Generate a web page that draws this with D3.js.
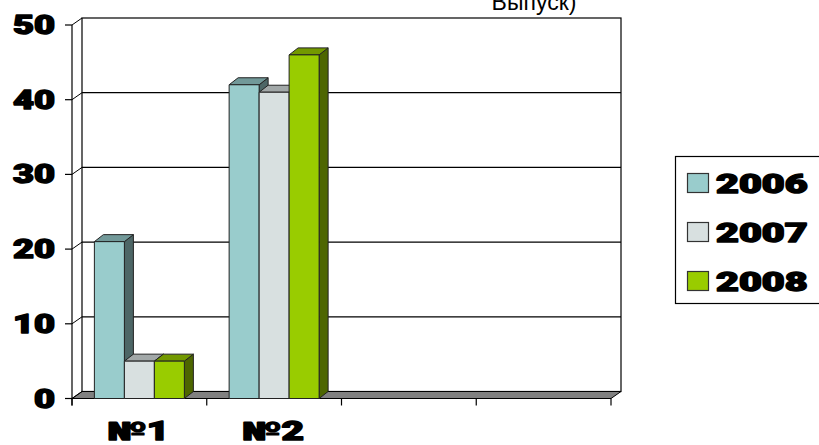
<!DOCTYPE html>
<html>
<head>
<meta charset="utf-8">
<script src="https://cdn.jsdelivr.net/npm/d3@7"></script>
<style>
  body { margin: 0; background: #fff; }
  svg { display: block; }
  .big { font-family: Roboto, 'DejaVu Sans', sans-serif; font-weight: 900; font-size: 25px; fill: #000; stroke: #000; stroke-width: 1.4px; stroke-linejoin: round; }
</style>
</head>
<body>
<div id="chart"></div>
<script>
var categories = ['№1', '№2', '', ''];
var years = ['2006', '2007', '2008'];
var values2006 = [21, 42];
var values2007 = [5, 41];
var values2008 = [5, 46];
var yTicks = [0, 10, 20, 30, 40, 50];

var series = [
  {name: '2006', values: values2006, front: '#99cccc', top: '#729999', side: '#4d6666'},
  {name: '2007', values: values2007, front: '#d8e0e0', top: '#a2a8a8', side: '#6c7070'},
  {name: '2008', values: values2008, front: '#99cc00', top: '#739900', side: '#4d6600'}
];

var W = 819, H = 445;
// 3d offsets: wall depth and bar depth
var dx = 10, dy = -7;
var bdx = 9, bdy = -7;

var x = d3.scaleBand().domain(d3.range(categories.length)).range([72, 611]);
var xs = d3.scaleBand().domain(years).range([0, x.bandwidth()]).paddingOuter(0.746);
var y = d3.scaleLinear().domain([0, 50]).range([398.5, 25]);

var svg = d3.select('#chart').append('svg')
  .attr('width', W)
  .attr('height', H);

// title, mostly cut off at the top
svg.append('text')
  .attr('x', 534).attr('y', 10)
  .attr('text-anchor', 'middle')
  .style('font-family', "'Liberation Sans', Arial, sans-serif")
  .style('font-size', '23px')
  .text('Выпуск)');

// back wall
var x0 = x.range()[0], x1 = x.range()[1];
svg.append('rect')
  .attr('x', x0 + dx).attr('y', y(50) + dy)
  .attr('width', x1 - x0).attr('height', y(0) - y(50))
  .attr('fill', '#fff').attr('stroke', '#000').attr('stroke-width', 1.2);

// gridlines on the wall
svg.selectAll('.grid').data(yTicks.slice(1, -1)).enter()
  .append('line')
  .attr('x1', x0 + dx).attr('x2', x1 + dx)
  .attr('y1', function(d) { return y(d) + dy; })
  .attr('y2', function(d) { return y(d) + dy; })
  .attr('stroke', '#000').attr('stroke-width', 1.2);

// floor
svg.append('path')
  .attr('d', 'M' + x0 + ',' + y(0) + 'L' + x1 + ',' + y(0) +
    'L' + (x1 + dx) + ',' + (y(0) + dy) + 'L' + (x0 + dx) + ',' + (y(0) + dy) + 'Z')
  .attr('fill', '#808080').attr('stroke', '#000').attr('stroke-width', 1);

// y axis on the front plane
svg.append('line')
  .attr('x1', x0).attr('x2', x0)
  .attr('y1', y(0) + 7).attr('y2', y(50))
  .attr('stroke', '#000').attr('stroke-width', 1.2);

var ticks = svg.selectAll('.ytick').data(yTicks).enter().append('g');
ticks.append('line')
  .attr('x1', x0 - 7).attr('x2', x0)
  .attr('y1', function(d) { return y(d); })
  .attr('y2', function(d) { return y(d); })
  .attr('stroke', '#000').attr('stroke-width', 1.2);
ticks.append('line')
  .attr('x1', x0).attr('x2', x0 + dx)
  .attr('y1', function(d) { return y(d); })
  .attr('y2', function(d) { return y(d) + dy; })
  .attr('stroke', '#000').attr('stroke-width', 1);
ticks.append('text')
  .attr('class', 'big')
  .attr('text-anchor', 'end')
  .attr('transform', function(d) { return 'translate(55,' + (y(d) + 9) + ') scale(1.45,1)'; })
  .text(function(d) { return d; });

// bottom axis
svg.append('line')
  .attr('x1', x0).attr('x2', x1)
  .attr('y1', y(0)).attr('y2', y(0))
  .attr('stroke', '#000').attr('stroke-width', 1.2);
svg.selectAll('.xtick').data(d3.range(categories.length + 1)).enter()
  .append('line')
  .attr('x1', function(d) { return x0 + d * x.step(); })
  .attr('x2', function(d) { return x0 + d * x.step(); })
  .attr('y1', y(0)).attr('y2', y(0) + 7)
  .attr('stroke', '#000').attr('stroke-width', 1.2);
svg.selectAll('.xlabel').data(categories).enter()
  .append('text')
  .attr('class', 'big')
  .attr('text-anchor', 'middle')
  .attr('transform', function(d, i) { return 'translate(' + (x(i) + x.bandwidth() / 2 - 1) + ',440) scale(1.55,1)'; })
  .text(function(d) { return d; });

// bars, left to right so each front hides the previous side
categories.forEach(function(c, i) {
  series.forEach(function(s) {
    var v = s.values[i];
    if (v === undefined) return;
    var bx = x(i) + xs(s.name), w = xs.bandwidth();
    var yt = y(v), yb = y(0);
    var g = svg.append('g').attr('stroke', '#222').attr('stroke-width', 1).attr('stroke-linejoin', 'round');
    g.append('path')
      .attr('d', 'M' + (bx + w) + ',' + yt + 'L' + (bx + w + bdx) + ',' + (yt + bdy) +
        'L' + (bx + w + bdx) + ',' + (yb + bdy) + 'L' + (bx + w) + ',' + yb + 'Z')
      .attr('fill', s.side);
    g.append('path')
      .attr('d', 'M' + bx + ',' + yt + 'L' + (bx + bdx) + ',' + (yt + bdy) +
        'L' + (bx + w + bdx) + ',' + (yt + bdy) + 'L' + (bx + w) + ',' + yt + 'Z')
      .attr('fill', s.top);
    g.append('rect')
      .attr('x', bx).attr('y', yt)
      .attr('width', w).attr('height', yb - yt)
      .attr('fill', s.front);
  });
});

// legend
var legend = svg.append('g');
legend.append('rect')
  .attr('x', 675.5).attr('y', 156.5)
  .attr('width', 170).attr('height', 147)
  .attr('fill', '#fff').attr('stroke', '#000').attr('stroke-width', 1.2);
var item = legend.selectAll('.item').data(series).enter().append('g')
  .attr('transform', function(d, i) { return 'translate(0,' + (i * 49) + ')'; });
item.append('rect')
  .attr('x', 687.5).attr('y', 173.5)
  .attr('width', 21).attr('height', 19)
  .attr('fill', function(d) { return d.front; })
  .attr('stroke', '#333').attr('stroke-width', 1.2);
item.append('text')
  .attr('class', 'big')
  .attr('transform', 'translate(716,193) scale(1.58,1)')
  .text(function(d) { return d.name; });
</script>
</body>
</html>
